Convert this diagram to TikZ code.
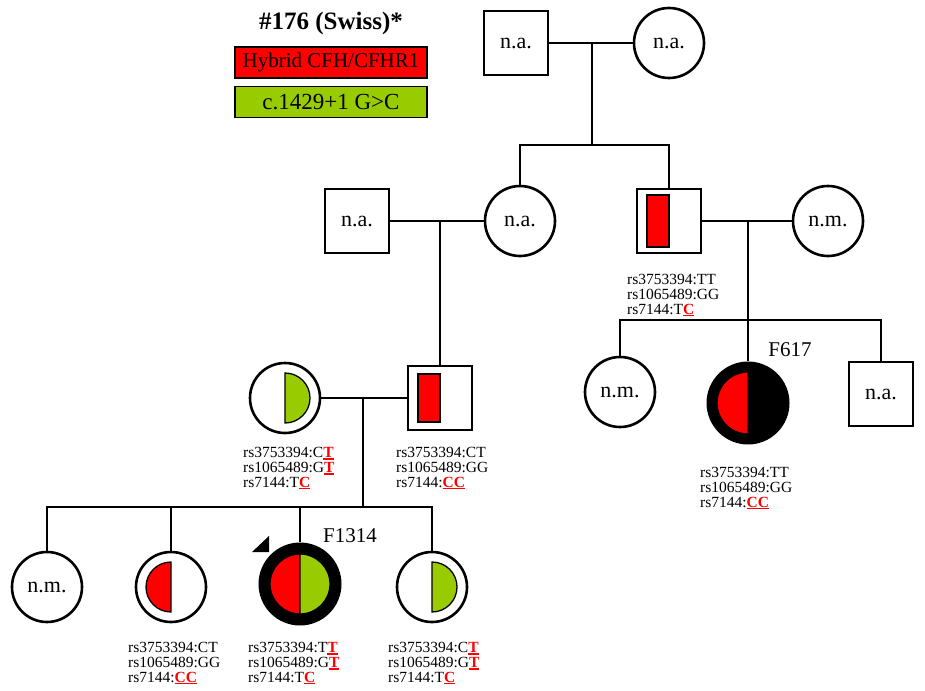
\documentclass[tikz,border=0pt]{standalone}
\usepackage{fontspec}
\newfontfamily\tnr{Liberation Serif}
\definecolor{hyb}{RGB}{255,0,0}
\definecolor{spl}{RGB}{153,204,0}
\newcommand\mk[1]{\textcolor{hyb}{\bfseries\setbox0\hbox{#1}\rlap{\rule[-2.4pt]{\wd0}{1.8pt}}\box0}}
\tikzset{
 ln/.style={line width=2.6pt},
 fem/.style={circle, draw, line width=2.6pt, minimum size=70pt, inner sep=0pt, font=\tnr\fontsize{22}{26}\selectfont},
 mal/.style={rectangle, draw, line width=2.6pt, minimum size=64pt, inner sep=0pt, font=\tnr\fontsize{22}{26}\selectfont},
 aff/.style={circle, fill=black, minimum size=83pt, inner sep=0pt},
 geno/.style={anchor=north west, inner sep=0pt, align=left, font=\tnr\fontsize{15.5}{14.8}\selectfont},
 half/.style={line width=1.3pt, draw=black},
 lab/.style={font=\tnr\fontsize{21}{24}\selectfont},
 legbox/.style={draw, line width=1.6pt, minimum width=192pt, minimum height=31pt, inner sep=0pt}
}
\begin{document}
\begin{tikzpicture}[x=1pt,y=1pt]
\useasboundingbox (0,0) rectangle (925,-690);
% legend
\node[font=\tnr\bfseries\fontsize{25}{28}\selectfont] (title) at (331,-23) {\#176 (Swiss)*};
\node[legbox, fill=hyb, font=\tnr\fontsize{21}{24}\selectfont] (lg1) at (331,-62.5) {Hybrid CFH/CFHR1};
\node[legbox, fill=spl, font=\tnr\fontsize{23}{26}\selectfont] (lg2) at (331,-102) {c.1429+1 G>C};
% generation I
\node[mal] (gp1) at (516,-43) {n.a.};
\node[fem] (gp2) at (669,-43) {n.a.};
\coordinate (m1) at (592,-43);
\coordinate (s1) at (592,-145);
\draw[ln] (gp1.east) -- (gp2.west);
\draw[ln] (m1) -- (s1);
% generation II
\node[mal] (g2a) at (357,-221) {n.a.};
\node[fem] (g2b) at (520,-221) {n.a.};
\node[mal] (g2c) at (669,-221) {};
\node[fem] (g2d) at (828,-221) {n.m.};
\draw[ln] (g2b.north) |- (s1) -| (g2c.north);
\draw[ln] (g2a.east) -- (g2b.west);
\draw[ln] (g2c.east) -- (g2d.west);
\filldraw[half, fill=hyb, line width=1.6pt] ([xshift=-22pt,yshift=26pt]g2c.center) rectangle ([yshift=-26pt]g2c.center);
\node[geno] (t2c) at (627,-274) {rs3753394:TT\\rs1065489:GG\\rs7144:T\mk{C}};
% generation III left
\node[fem] (g3a) at (285,-398) {};
\node[mal] (g3b) at (440,-398) {};
\draw[ln] (g3b.north) -- (g3b.north |- g2a.east);
\draw[ln] (g3a.east) -- (g3b.west);
\filldraw[half, fill=spl] ([yshift=25pt]g3a.center) arc[start angle=90, end angle=-90, radius=25pt] -- cycle;
\filldraw[half, fill=hyb, line width=1.6pt] ([xshift=-22pt,yshift=24pt]g3b.center) rectangle ([yshift=-24pt]g3b.center);
\coordinate (m3) at (363,-398);
\coordinate (s3) at (363,-507);
\draw[ln] (m3) -- (s3);
\node[geno] (t3a) at (243,-447) {rs3753394:C\mk{T}\\rs1065489:G\mk{T}\\rs7144:T\mk{C}};
\node[geno] (t3b) at (396,-447) {rs3753394:CT\\rs1065489:GG\\rs7144:\mk{CC}};
% generation III right
\coordinate (m4) at (748,-221);
\coordinate (s4) at (748,-320);
\draw[ln] (m4) -- (s4);
\node[fem] (g3c) at (620,-392) {n.m.};
\node[aff] (g3d) at (748,-403) {};
\node[mal] (g3e) at (881,-394) {n.a.};
\draw[ln] (g3c.north) |- (g3e.north |- s4) -- (g3e.north);
\draw[ln] (g3d.north) -- (s4);
\filldraw[half, fill=hyb] ([yshift=31pt]g3d.center) arc[start angle=90, end angle=270, radius=31pt] -- cycle;
\node[lab] (f617) at (790,-350) {F617};
\node[geno] (t3d) at (700,-467) {rs3753394:TT\\rs1065489:GG\\rs7144:\mk{CC}};
% generation IV
\node[fem] (g4a) at (47,-587) {n.m.};
\node[fem] (g4b) at (171,-587) {};
\node[aff] (g4c) at (300,-584) {};
\node[fem] (g4d) at (432,-587) {};
\draw[ln] (g4a.north) |- (g4d.north |- s3) -- (g4d.north);
\draw[ln] (g4b.north) -- (g4b.north |- s3);
\draw[ln] (g4c.north) -- (g4c.north |- s3);
\filldraw[half, fill=hyb] ([yshift=25pt]g4b.center) arc[start angle=90, end angle=270, radius=25pt] -- cycle;
\filldraw[half, fill=hyb] ([yshift=30pt]g4c.center) arc[start angle=90, end angle=270, radius=30pt] -- cycle;
\filldraw[half, fill=spl] ([yshift=30pt]g4c.center) arc[start angle=90, end angle=-90, radius=30pt] -- cycle;
\filldraw[half, fill=spl] ([yshift=25pt]g4d.center) arc[start angle=90, end angle=-90, radius=25pt] -- cycle;
\fill (252,-552) -- (269,-536) -- (269,-552) -- cycle;
\node[lab] (f1314) at (350,-536) {F1314};
\node[geno] (t4b) at (128,-642) {rs3753394:CT\\rs1065489:GG\\rs7144:\mk{CC}};
\node[geno] (t4c) at (248,-642) {rs3753394:T\mk{T}\\rs1065489:G\mk{T}\\rs7144:T\mk{C}};
\node[geno] (t4d) at (388,-642) {rs3753394:C\mk{T}\\rs1065489:G\mk{T}\\rs7144:T\mk{C}};
\end{tikzpicture}
\end{document}
